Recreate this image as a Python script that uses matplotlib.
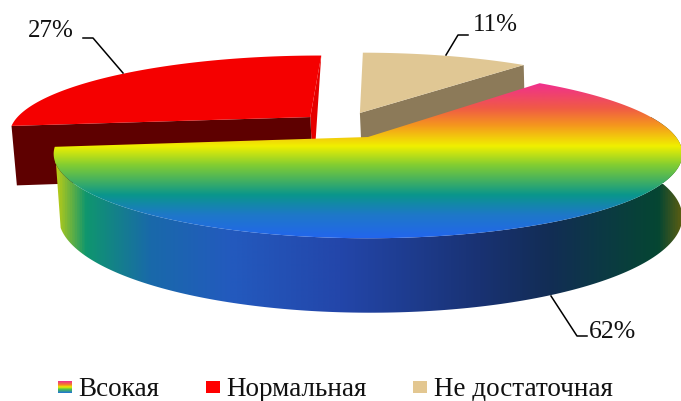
import matplotlib
matplotlib.use("Agg")
import matplotlib.pyplot as plt
from matplotlib.colors import LinearSegmentedColormap
from matplotlib.patches import Polygon, Rectangle
import numpy as np

# pie data, counter clockwise starting from the tip of the big slice
names = ["Всокая", "Нормальная", "Не достаточная"]
shares = [62, 27, 11]
labels = ["62%", "27%", "11%"]

# order around the pie: beige, red, then the big one
start_angle = 50

# projection of the disc on the canvas (pixels)
cx, cy = 368, 137
rx, ry = 308, 81
persp = 0.2
depth = 62
shrink = 0.992
shift = 2.5

plt.rcParams["font.family"] = ["Liberation Serif", "DejaVu Serif"]

fig = plt.figure(figsize=(6.81, 4.01), dpi=100)
ax = fig.add_axes([0, 0, 1, 1])
ax.set_xlim(0, 681)
ax.set_ylim(401, 0)
ax.axis("off")


def project(X, Y, bottom=False):
    s = 1 / (1 + persp * Y)
    x = rx * X * s
    y = -ry * Y * s
    if bottom:
        x = x * shrink + shift
        y = (y + depth * s) * 0.983
    return cx + x, cy + y


def rim(a0, a1, off, bottom=False):
    t = np.radians(np.linspace(a0, a1, 200))
    x, y = project(np.cos(t) + off[0], np.sin(t) + off[1], bottom)
    return np.column_stack([x, y])


def gradient_fill(poly, stops, vertical, zorder):
    pos = [p for p, c in stops]
    cols = [np.array(c) / 255 for p, c in stops]
    lo, hi = pos[0], pos[-1]
    cmap = LinearSegmentedColormap.from_list(
        "g", [((p - lo) / (hi - lo), c) for p, c in zip(pos, cols)])
    g = np.linspace(0, 1, 512)
    if vertical:
        im = ax.imshow(g[:, None], cmap=cmap, extent=[0, 681, hi, lo],
                       aspect="auto", zorder=zorder, interpolation="bilinear")
    else:
        im = ax.imshow(g[None, :], cmap=cmap, extent=[lo, hi, 401, 0],
                       aspect="auto", zorder=zorder, interpolation="bilinear")
    clip = Polygon(poly, closed=True, transform=ax.transData, fc="none", ec="none")
    ax.add_patch(clip)
    im.set_clip_path(clip)


top_stops = [(82, (240, 45, 145)), (108, (240, 90, 70)), (125, (245, 150, 30)),
             (146, (240, 240, 0)), (165, (130, 205, 50)), (195, (10, 150, 140)),
             (215, (30, 120, 200)), (240, (35, 100, 240))]
side_stops = [(55, (190, 205, 20)), (85, (15, 150, 110)), (150, (25, 105, 170)),
              (230, (35, 90, 190)), (340, (35, 70, 170)), (480, (25, 50, 115)),
              (550, (18, 45, 85)), (660, (5, 70, 50)), (685, (100, 95, 15))]

# angle ranges of the slices
a_beige = (start_angle, start_angle + shares[2] * 3.6)
a_red = (a_beige[1], a_beige[1] + shares[1] * 3.6)
a_main = (a_red[1], a_red[1] + shares[0] * 3.6)

off_red = (-0.197, 0.259)
off_beige = (-0.028, 0.315)
off_main = (0, 0)

# red slice
r_top = rim(*a_red, off_red)
r_bot = rim(*a_red, off_red, True)
ax_top = np.array(project(*off_red))
ax_bot = np.array(project(*off_red, True))
ax.add_patch(Polygon([r_top[0], ax_top, ax_bot], fc=(0.9, 0, 0), ec="none", zorder=2))
ax.add_patch(Polygon([ax_top, r_top[-1], r_bot[-1], ax_bot], fc=(0.37, 0, 0), ec="none", zorder=2))
ax.add_patch(Polygon(np.vstack([ax_top, r_top]), fc=(0.96, 0, 0), ec="none", zorder=3))

# beige slice
b_top = rim(*a_beige, off_beige)
b_bot = rim(*a_beige, off_beige, True)
bx_top = np.array(project(*off_beige))
bx_bot = np.array(project(*off_beige, True))
ax.add_patch(Polygon([bx_top, b_top[0], b_bot[0], bx_bot], fc=(0.55, 0.48, 0.35), ec="none", zorder=2))
ax.add_patch(Polygon(np.vstack([bx_top, b_top]), fc=(0.88, 0.78, 0.58), ec="none", zorder=3))

# big slice, wall first and then the top face
m_top = rim(*a_main, off_main)
m_wall_top = rim(a_main[0], 375, off_main)
m_wall_bot = rim(a_main[0] + 11, 375, off_main, True)
gradient_fill(np.vstack([m_wall_top, m_wall_bot[::-1]]), side_stops, False, 4)
gradient_fill(np.vstack([[cx, cy], m_top]), top_stops, True, 5)

# leader lines and value labels
ax.plot([83, 93, 123], [38, 38, 73], color="black", lw=1.1, zorder=6)
ax.plot([468, 458, 446], [35, 35, 55], color="black", lw=1.1, zorder=6)
ax.plot([551, 577, 587], [296, 336, 336], color="black", lw=1.1, zorder=6)
ax.text(51, 31, labels[1], fontsize=18, ha="center", va="center", color="#111111")
ax.text(495, 25, labels[2], fontsize=18, ha="center", va="center", color="#111111")
ax.text(613, 332, labels[0], fontsize=18.5, ha="center", va="center", color="#111111")

# legend
legend_x = [58, 206, 413]
text_x = [78, 226, 434]
g = np.linspace(0, 1, 64)
cm = LinearSegmentedColormap.from_list(
    "leg", [(0, (0.94, 0.18, 0.57)), (0.3, (0.96, 0.5, 0.15)), (0.5, (0.94, 0.94, 0)),
            (0.7, (0.3, 0.75, 0.3)), (1, (0.12, 0.45, 0.85))])
ax.imshow(g[:, None], cmap=cm, extent=[legend_x[0], legend_x[0] + 14, 393, 381],
          aspect="auto", zorder=6)
ax.add_patch(Rectangle((legend_x[1], 381), 14, 12, fc=(1, 0, 0), ec="none"))
ax.add_patch(Rectangle((legend_x[2], 381), 14, 12, fc=(0.89, 0.78, 0.57), ec="none"))
for tx, name in zip(text_x, names):
    ax.text(tx, 389, name, fontsize=19.5, ha="left", va="center", color="#111111")

ax.set_xlim(0, 681)
ax.set_ylim(401, 0)
fig.savefig("out.png", dpi=100, facecolor="white")
